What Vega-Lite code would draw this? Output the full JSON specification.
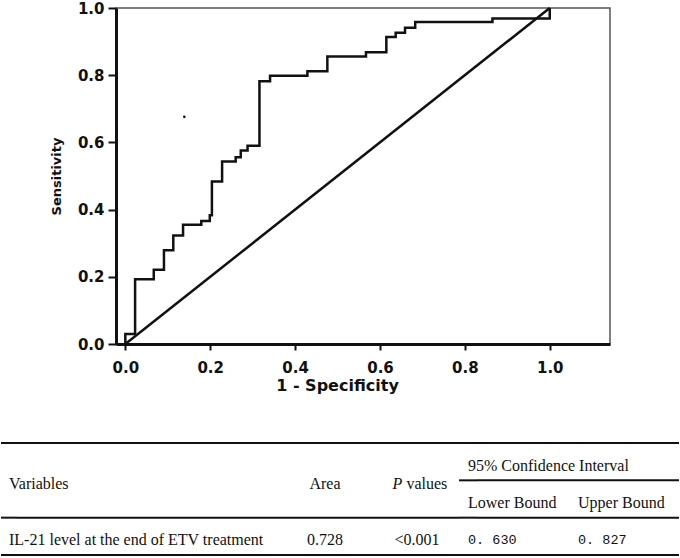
{
  "$schema": "https://vega.github.io/schema/vega-lite/v6.json",
  "padding": 0,
  "background": "white",
  "spacing": 48,
  "config": {"view": {"stroke": null}, "axis": {"grid": false}},
  "datasets": {
    "roc": [
      {"i": 1, "fpr": 0, "tpr": 0}, {"i": 2, "fpr": 0, "tpr": 0.03}, {"i": 3, "fpr": 0.023, "tpr": 0.03},
      {"i": 4, "fpr": 0.023, "tpr": 0.193}, {"i": 5, "fpr": 0.067, "tpr": 0.193}, {"i": 6, "fpr": 0.067, "tpr": 0.221},
      {"i": 7, "fpr": 0.091, "tpr": 0.221}, {"i": 8, "fpr": 0.091, "tpr": 0.279}, {"i": 9, "fpr": 0.113, "tpr": 0.279},
      {"i": 10, "fpr": 0.113, "tpr": 0.323}, {"i": 11, "fpr": 0.136, "tpr": 0.323}, {"i": 12, "fpr": 0.136, "tpr": 0.355},
      {"i": 13, "fpr": 0.179, "tpr": 0.355}, {"i": 14, "fpr": 0.179, "tpr": 0.366}, {"i": 15, "fpr": 0.199, "tpr": 0.366},
      {"i": 16, "fpr": 0.199, "tpr": 0.383}, {"i": 17, "fpr": 0.204, "tpr": 0.383}, {"i": 18, "fpr": 0.204, "tpr": 0.484},
      {"i": 19, "fpr": 0.228, "tpr": 0.484}, {"i": 20, "fpr": 0.228, "tpr": 0.543}, {"i": 21, "fpr": 0.26, "tpr": 0.543},
      {"i": 22, "fpr": 0.26, "tpr": 0.556}, {"i": 23, "fpr": 0.272, "tpr": 0.556}, {"i": 24, "fpr": 0.272, "tpr": 0.576},
      {"i": 25, "fpr": 0.288, "tpr": 0.576}, {"i": 26, "fpr": 0.288, "tpr": 0.59}, {"i": 27, "fpr": 0.316, "tpr": 0.59},
      {"i": 28, "fpr": 0.316, "tpr": 0.782}, {"i": 29, "fpr": 0.341, "tpr": 0.782}, {"i": 30, "fpr": 0.341, "tpr": 0.798},
      {"i": 31, "fpr": 0.429, "tpr": 0.798}, {"i": 32, "fpr": 0.429, "tpr": 0.812}, {"i": 33, "fpr": 0.476, "tpr": 0.812},
      {"i": 34, "fpr": 0.476, "tpr": 0.856}, {"i": 35, "fpr": 0.567, "tpr": 0.856}, {"i": 36, "fpr": 0.567, "tpr": 0.868},
      {"i": 37, "fpr": 0.615, "tpr": 0.868}, {"i": 38, "fpr": 0.615, "tpr": 0.914}, {"i": 39, "fpr": 0.637, "tpr": 0.914},
      {"i": 40, "fpr": 0.637, "tpr": 0.926}, {"i": 41, "fpr": 0.659, "tpr": 0.926}, {"i": 42, "fpr": 0.659, "tpr": 0.941},
      {"i": 43, "fpr": 0.683, "tpr": 0.941}, {"i": 44, "fpr": 0.683, "tpr": 0.958}, {"i": 45, "fpr": 0.865, "tpr": 0.958},
      {"i": 46, "fpr": 0.865, "tpr": 0.969}, {"i": 47, "fpr": 1.0, "tpr": 0.969}, {"i": 48, "fpr": 1.0, "tpr": 1.0}
    ],
    "diagonal": [{"fpr": 0, "tpr": 0}, {"fpr": 1, "tpr": 1}],
    "speck": [{"fpr": 0.139, "tpr": 0.676}],
    "rules": [
      {"row": "top", "span": "all"},
      {"row": "mid", "span": "ci"},
      {"row": "hline", "span": "all"},
      {"row": "bottom", "span": "all"}
    ],
    "cells": [
      {"col": "A", "row": "mid", "text": "Variables"},
      {"col": "A", "row": "body", "text": "IL-21 level at the end of ETV treatment"},
      {"col": "B", "row": "mid", "text": "Area"},
      {"col": "B", "row": "body", "text": "0.728"},
      {"col": "C", "row": "mid", "text": "P"},
      {"col": "C", "row": "mid", "text": "values"},
      {"col": "C", "row": "body", "text": "<0.001"},
      {"col": "D", "row": "ci", "text": "95% Confidence Interval"},
      {"col": "D", "row": "sub", "text": "Lower Bound"},
      {"col": "D", "row": "body", "text": "0. 630"},
      {"col": "E", "row": "sub", "text": "Upper Bound"},
      {"col": "E", "row": "body", "text": "0. 827"}
    ]
  },
  "vconcat": [
    {
      "spacing": 0,
      "hconcat": [
        {"width": 48, "height": 10, "data": {"values": []}, "mark": "point"},
        {
          "width": 494,
          "height": 336,
          "view": {"stroke": "#555", "strokeWidth": 1.5},
          "encoding": {
            "x": {
              "field": "fpr", "type": "quantitative",
              "scale": {"domain": [-0.022, 1.142], "nice": false, "zero": false},
              "axis": {
                "values": [0, 0.2, 0.4, 0.6, 0.8, 1], "format": ".1f", "title": "1 - Specificity", "titleX": 221,
                "labelFlush": false, "domainColor": "#111", "domainWidth": 3, "tickColor": "#111", "tickWidth": 2,
                "tickSize": 6, "labelPadding": 10, "labelFont": "DejaVu Sans", "labelFontWeight": "bold",
                "labelFontSize": 15, "labelColor": "#111", "titleFont": "DejaVu Sans", "titleFontWeight": "bold",
                "titleFontSize": 16, "titleColor": "#111", "titlePadding": 2
              }
            },
            "y": {
              "field": "tpr", "type": "quantitative",
              "scale": {"domain": [0, 1], "nice": false},
              "axis": {
                "values": [0, 0.2, 0.4, 0.6, 0.8, 1], "format": ".1f", "title": "Sensitivity",
                "domainColor": "#111", "domainWidth": 3, "tickColor": "#111", "tickWidth": 2,
                "tickSize": 8, "labelPadding": 4, "labelFont": "DejaVu Sans", "labelFontWeight": "bold",
                "labelFontSize": 15, "labelColor": "#111", "titleFont": "DejaVu Sans", "titleFontWeight": "bold",
                "titleFontSize": 13, "titleColor": "#111", "titlePadding": 14
              }
            }
          },
          "layer": [
            {"data": {"name": "roc"}, "mark": {"type": "line", "color": "#111", "strokeWidth": 2.5},
             "encoding": {"order": {"field": "i", "type": "quantitative"}}},
            {"data": {"name": "diagonal"}, "mark": {"type": "line", "color": "#111", "strokeWidth": 2.5}, "encoding": {}},
            {"data": {"name": "speck"}, "mark": {"type": "point", "filled": true, "size": 7, "color": "#111", "opacity": 1}}
          ]
        }
      ]
    },
    {
      "spacing": 0,
      "bounds": "flush",
      "hconcat": [
        {
          "width": 16, "height": 112,
          "encoding": {"y": {"field": "row", "type": "nominal", "scale": {"type": "point", "domain": ["top", "ci", "mid", "sub", "hline", "body", "bottom"], "padding": 0}, "axis": null}},
          "layer": [
            {"data": {"name": "rules"}, "transform": [{"filter": "datum.span === 'all'"}], "mark": {"type": "rule", "color": "#111", "strokeWidth": 2}},
            {"data": {"name": "cells"}, "transform": [{"filter": "datum.col === 'A'"}],
             "mark": {"type": "text", "align": "left", "baseline": "middle", "dy": 4, "font": "Liberation Serif", "fontSize": 16, "color": "#111"},
             "encoding": {"text": {"field": "text"}}}
          ]
        },
        {
          "width": 252, "height": 112,
          "encoding": {"y": {"field": "row", "type": "nominal", "scale": {"type": "point", "domain": ["top", "ci", "mid", "sub", "hline", "body", "bottom"], "padding": 0}, "axis": null}},
          "layer": [
            {"data": {"name": "rules"}, "transform": [{"filter": "datum.span === 'all'"}], "mark": {"type": "rule", "color": "#111", "strokeWidth": 2}}
          ]
        },
        {
          "width": 112, "height": 112,
          "encoding": {"y": {"field": "row", "type": "nominal", "scale": {"type": "point", "domain": ["top", "ci", "mid", "sub", "hline", "body", "bottom"], "padding": 0}, "axis": null}},
          "layer": [
            {"data": {"name": "rules"}, "transform": [{"filter": "datum.span === 'all'"}], "mark": {"type": "rule", "color": "#111", "strokeWidth": 2}},
            {"data": {"name": "cells"}, "transform": [{"filter": "datum.col === 'B'"}],
             "mark": {"type": "text", "align": "center", "baseline": "middle", "dy": 4, "font": "Liberation Serif", "fontSize": 16, "color": "#111"},
             "encoding": {"text": {"field": "text"}}}
          ]
        },
        {
          "width": 78, "height": 112,
          "encoding": {"y": {"field": "row", "type": "nominal", "scale": {"type": "point", "domain": ["top", "ci", "mid", "sub", "hline", "body", "bottom"], "padding": 0}, "axis": null}},
          "layer": [
            {"data": {"name": "rules"}, "transform": [{"filter": "datum.span === 'all'"}], "mark": {"type": "rule", "color": "#111", "strokeWidth": 2}},
            {"data": {"name": "cells"}, "transform": [{"filter": "datum.col === 'C' && datum.text === 'P'"}],
             "mark": {"type": "text", "align": "right", "baseline": "middle", "dx": -17.6, "dy": 4, "font": "Liberation Serif", "fontStyle": "italic", "fontSize": 16, "color": "#111"},
             "encoding": {"text": {"field": "text"}}},
            {"data": {"name": "cells"}, "transform": [{"filter": "datum.col === 'C' && datum.text === 'values'"}],
             "mark": {"type": "text", "align": "left", "baseline": "middle", "dx": -13.6, "dy": 4, "font": "Liberation Serif", "fontSize": 16, "color": "#111"},
             "encoding": {"text": {"field": "text"}}},
            {"data": {"name": "cells"}, "transform": [{"filter": "datum.col === 'C' && datum.row === 'body'"}],
             "mark": {"type": "text", "align": "center", "baseline": "middle", "dx": -3, "dy": 4, "font": "Liberation Serif", "fontSize": 16, "color": "#111"},
             "encoding": {"text": {"field": "text"}}}
          ]
        },
        {
          "width": 18, "height": 112,
          "encoding": {"y": {"field": "row", "type": "nominal", "scale": {"type": "point", "domain": ["top", "ci", "mid", "sub", "hline", "body", "bottom"], "padding": 0}, "axis": null}},
          "layer": [
            {"data": {"name": "rules"}, "mark": {"type": "rule", "color": "#111", "strokeWidth": 2}},
            {"data": {"name": "cells"}, "transform": [{"filter": "datum.col === 'D' && datum.row !== 'body'"}],
             "mark": {"type": "text", "align": "left", "baseline": "middle", "dy": 4, "font": "Liberation Serif", "fontSize": 16, "color": "#111"},
             "encoding": {"text": {"field": "text"}}},
            {"data": {"name": "cells"}, "transform": [{"filter": "datum.col === 'D' && datum.row === 'body'"}],
             "mark": {"type": "text", "align": "left", "baseline": "middle", "dy": 4, "font": "Liberation Mono", "fontSize": 13.5, "color": "#111"},
             "encoding": {"text": {"field": "text"}}}
          ]
        },
        {
          "width": 202, "height": 112,
          "encoding": {"y": {"field": "row", "type": "nominal", "scale": {"type": "point", "domain": ["top", "ci", "mid", "sub", "hline", "body", "bottom"], "padding": 0}, "axis": null}},
          "layer": [
            {"data": {"name": "rules"}, "mark": {"type": "rule", "color": "#111", "strokeWidth": 2}},
            {"data": {"name": "cells"}, "transform": [{"filter": "datum.col === 'E' && datum.row !== 'body'"}],
             "mark": {"type": "text", "align": "left", "baseline": "middle", "dy": 4, "font": "Liberation Serif", "fontSize": 16, "color": "#111"},
             "encoding": {"text": {"field": "text"}}},
            {"data": {"name": "cells"}, "transform": [{"filter": "datum.col === 'E' && datum.row === 'body'"}],
             "mark": {"type": "text", "align": "left", "baseline": "middle", "dy": 4, "font": "Liberation Mono", "fontSize": 13.5, "color": "#111"},
             "encoding": {"text": {"field": "text"}}}
          ]
        }
      ]
    }
  ]
}
